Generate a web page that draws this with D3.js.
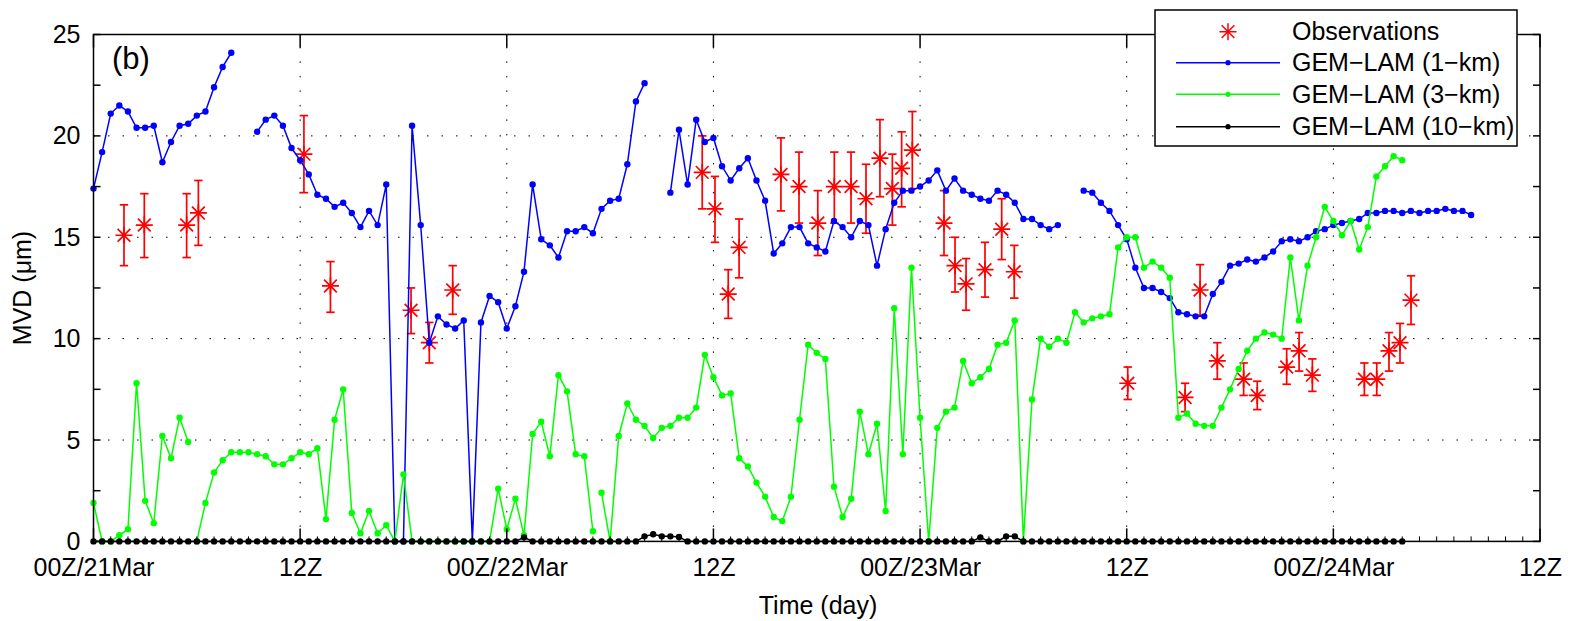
<!DOCTYPE html>
<html>
<head>
<meta charset="utf-8">
<script src="https://cdn.jsdelivr.net/npm/d3@7"></script>
<style>
  body { margin: 0; background: #fff; }
  svg { display: block; }
  text { font-family: "Liberation Sans", Arial, Helvetica, sans-serif; fill: #000; }
</style>
</head>
<body>
<svg id="chart" width="1579" height="621"></svg>
<script>
// Time axis: hours since 00Z 21 March
const tickHours  = [0, 12, 24, 36, 48, 60, 72, 84];
const tickLabels = ["00Z/21Mar", "12Z", "00Z/22Mar", "12Z", "00Z/23Mar", "12Z", "00Z/24Mar", "12Z"];
const yTickValues = [0, 5, 10, 15, 20, 25];
const stepHours = 0.5;   // model output every 30 min

// GEM-LAM 1-km MVD (µm), half-hourly from 00Z/21Mar (null = no output)
const gem1km = [
  17.4, 19.2, 21.1, 21.5, 21.2, 20.4, 20.4, 20.5, 18.7, 19.7,
  20.5, 20.6, 21.0, 21.2, 22.4, 23.4, 24.1, null, null, 20.2,
  20.8, 21.0, 20.5, 19.4, 18.8, 18.1, 17.1, 16.9, 16.5, 16.7,
  16.2, 15.5, 16.3, 15.6, 17.6, 0, 0, 20.5, 15.6, 9.8,
  11.1, 10.7, 10.5, 10.9, 0, 10.8, 12.1, 11.8, 10.5, 11.6,
  13.3, 17.6, 14.9, 14.6, 14.0, 15.3, 15.3, 15.5, 15.2, 16.4,
  16.8, 16.9, 18.6, 21.7, 22.6, null, null, 17.2, 20.3, 17.6,
  20.8, 19.7, 19.9, 18.5, 17.8, 18.4, 18.9, 17.8, 16.8, 14.2,
  14.7, 15.5, 15.5, 14.7, 14.5, 14.3, 15.8, 15.5, 15.0, 15.8,
  15.6, 13.6, 15.4, 16.7, 17.3, 17.3, 17.5, 17.8, 18.3, 17.3,
  17.9, 17.3, 17.1, 16.9, 16.8, 17.3, 17.1, 16.7, 15.9, 15.9,
  15.6, 15.4, 15.6, null, null, 17.3, 17.2, 16.7, 16.3, 15.6,
  14.9, 13.5, 12.5, 12.5, 12.3, 12.0, 11.3, 11.2, 11.1, 11.1,
  12.2, 12.8, 13.6, 13.7, 13.9, 13.8, 14.0, 14.3, 14.8, 14.9,
  14.8, 15.0, 15.3, 15.4, 15.6, 15.7, 15.8, 15.9, 16.2, 16.2,
  16.3, 16.3, 16.2, 16.3, 16.2, 16.3, 16.3, 16.4, 16.3, 16.3,
  16.1
];

// GEM-LAM 3-km MVD (µm), half-hourly
const gem3km = [
  1.9, 0, 0, 0.3, 0.6, 7.8, 2.0, 0.9, 5.2, 4.1,
  6.1, 4.9, 0, 1.9, 3.4, 4.0, 4.4, 4.4, 4.4, 4.3,
  4.2, 3.8, 3.8, 4.1, 4.4, 4.3, 4.6, 1.1, 6.0, 7.5,
  1.4, 0.4, 1.5, 0.4, 0.8, 0, 3.3, 0, 0, 0,
  0, 0, 0, 0, 0, 0, 0, 2.6, 0.6, 2.1,
  0.3, 5.3, 5.9, 4.2, 8.2, 7.4, 4.3, 4.2, 0.5, 2.4,
  0, 5.2, 6.8, 6.0, 5.7, 5.1, 5.6, 5.7, 6.1, 6.1,
  6.6, 9.2, 8.1, 7.2, 7.3, 4.1, 3.7, 2.9, 2.2, 1.2,
  1.0, 2.2, 6.0, 9.7, 9.3, 9.0, 2.7, 1.2, 2.1, 6.4,
  4.3, 5.8, 1.5, 11.5, 4.3, 13.5, 6.1, 0, 5.6, 6.4,
  6.6, 8.9, 7.8, 8.1, 8.5, 9.7, 9.8, 10.9, 0, 7.0,
  10.0, 9.6, 10.0, 9.8, 11.3, 10.8, 11.0, 11.1, 11.2, 14.5,
  15.0, 15.0, 13.5, 13.8, 13.5, 13.0, 6.1, 6.3, 5.8, 5.7,
  5.7, 6.6, 7.5, 8.5, 9.4, 10.0, 10.3, 10.2, 10.0, 14.0,
  10.9, 13.6, 15.0, 16.5, 15.8, 15.1, 15.8, 14.4, 15.5, 18.0,
  18.5, 19.0, 18.8
];
// indices after which the 3-km run restarts (no connecting segment)
const gem3kmBreaks = [11, 58];

// GEM-LAM 10-km MVD (µm), half-hourly
const gem10km = [
  0, 0, 0, 0, 0, 0, 0, 0, 0, 0,
  0, 0, 0, 0, 0, 0, 0, 0, 0, 0,
  0, 0, 0, 0, 0, 0, 0, 0, 0, 0,
  0, 0, 0, 0, 0, 0, 0, 0, 0, 0,
  0, 0, 0, 0, 0, 0, 0, 0, 0, 0,
  0.2, 0, 0, 0, 0, 0, 0, 0, 0, 0,
  0, 0, 0, 0, 0.25, 0.35, 0.25, 0.25, 0.22, 0,
  0, 0, 0, 0, 0, 0, 0, 0, 0, 0,
  0, 0, 0, 0, 0, 0, 0, 0, 0, 0,
  0, 0, 0, 0, 0, 0, 0, 0, 0, 0,
  0, 0, 0, 0.2, 0, 0, 0.25, 0.25, 0, 0,
  0, 0, 0, 0, 0, 0, 0, 0, 0, 0,
  0, 0, 0, 0, 0, 0, 0, 0, 0, 0,
  0, 0, 0, 0, 0, 0, 0, 0, 0, 0,
  0, 0, 0, 0, 0, 0, 0, 0, 0, 0,
  0, 0, 0
];

// Observed MVD (µm) with uncertainty range
const obsHours = [1.77, 2.95, 5.41, 6.09, 12.22, 13.76, 18.44, 19.50, 20.86, 35.35,
  36.09, 36.86, 37.49, 39.92, 40.97, 42.06, 43.02, 43.99, 44.86, 45.67,
  46.39, 46.93, 47.55, 49.39, 50.03, 50.67, 51.77, 52.74, 53.47, 60.06,
  63.39, 64.26, 65.26, 66.79, 67.58, 69.29, 70.01, 70.78, 73.80, 74.52,
  75.23, 75.87, 76.51];
const obsMVD = [15.1, 15.6, 15.6, 16.2, 19.1, 12.6, 11.4, 9.8, 12.4, 18.2,
  16.4, 12.2, 14.5, 18.1, 17.5, 15.7, 17.5, 17.5, 16.9, 18.9,
  17.4, 18.4, 19.3, 15.7, 13.6, 12.7, 13.4, 15.4, 13.3, 7.8,
  7.1, 12.4, 8.9, 8.0, 7.2, 8.6, 9.4, 8.2, 8.0, 8.0,
  9.4, 9.8, 11.9];
const obsHigh = [16.6, 17.15, 17.15, 17.8, 21.0, 13.8, 12.5, 10.8, 13.6, 20.0,
  18.0, 13.4, 15.9, 19.9, 19.2, 17.3, 19.2, 19.2, 18.6, 20.8,
  19.1, 20.2, 21.2, 17.3, 15.0, 13.95, 14.75, 16.9, 14.6, 8.6,
  7.8, 13.65, 9.8, 8.8, 7.9, 9.5, 10.3, 9.0, 8.8, 8.8,
  10.3, 10.75, 13.1];
const obsLow = [13.6, 14.0, 14.0, 14.6, 17.2, 11.3, 10.25, 8.8, 11.2, 16.4,
  14.75, 11.0, 13.0, 16.3, 15.7, 14.1, 15.7, 15.7, 15.2, 17.0,
  15.6, 16.5, 17.4, 14.1, 12.3, 11.4, 12.05, 13.9, 12.0, 7.0,
  6.4, 11.15, 8.0, 7.2, 6.5, 7.75, 8.4, 7.4, 7.2, 7.2,
  8.4, 8.8, 10.7];

const legendLabels = ["Observations", "GEM\u2212LAM (1\u2212km)", "GEM\u2212LAM (3\u2212km)", "GEM\u2212LAM (10\u2212km)"];

// ---- layout ----
const svg = d3.select("#chart");
const L = 93.5, R = 1540, T = 34.5, B = 541.4;
const x = d3.scaleLinear().domain([0, 84]).range([L, R]);
const y = d3.scaleLinear().domain([0, 25]).range([B, T]);
const FS = 25;

// grid
const grid = svg.append("g").attr("stroke", "#000").attr("stroke-width", 1)
  .attr("stroke-dasharray", "1.5,13");
grid.selectAll("line.h").data(yTickValues.filter(v => v > 0 && v < 25)).join("line")
  .attr("x1", L).attr("x2", R).attr("y1", d => y(d)).attr("y2", d => y(d));
grid.selectAll("line.v").data(tickHours.filter(h => h > 0 && h < 84)).join("line")
  .attr("y1", B).attr("y2", T).attr("x1", d => x(d)).attr("x2", d => x(d));

// series segments (split at missing values and run restarts)
function segments(vals, breaks) {
  const segs = []; let cur = [];
  vals.forEach((v, i) => {
    if (v == null) { if (cur.length) segs.push(cur); cur = []; return; }
    cur.push([i * stepHours, v]);
    if (breaks.includes(i)) { segs.push(cur); cur = []; }
  });
  if (cur.length) segs.push(cur);
  return segs;
}
const line = d3.line().x(d => x(d[0])).y(d => y(d[1]));

function asteriskPath(r) {
  const d = r * 0.75;
  return `M${-r},0L${r},0M0,${-r}L0,${r}M${-d},${-d}L${d},${d}M${-d},${d}L${d},${-d}`;
}

// observations with error bars
const obs = svg.append("g").attr("stroke", "#ff0000").attr("stroke-width", 1.7).attr("fill", "none");
obsHours.forEach((h, i) => {
  const cx = x(h), cap = 4.2;
  obs.append("line").attr("x1", cx).attr("x2", cx).attr("y1", y(obsLow[i])).attr("y2", y(obsHigh[i]));
  obs.append("line").attr("x1", cx - cap).attr("x2", cx + cap).attr("y1", y(obsLow[i])).attr("y2", y(obsLow[i]));
  obs.append("line").attr("x1", cx - cap).attr("x2", cx + cap).attr("y1", y(obsHigh[i])).attr("y2", y(obsHigh[i]));
  obs.append("path").attr("d", asteriskPath(8.5)).attr("transform", `translate(${cx},${y(obsMVD[i])})`);
});

function drawSeries(vals, breaks, color, r) {
  const g = svg.append("g");
  g.selectAll("path").data(segments(vals, breaks)).join("path")
    .attr("d", line).attr("fill", "none").attr("stroke", color).attr("stroke-width", 1.5);
  const pts = [];
  vals.forEach((v, i) => { if (v != null) pts.push([i * stepHours, v]); });
  g.selectAll("circle").data(pts).join("circle")
    .attr("cx", d => x(d[0])).attr("cy", d => y(d[1])).attr("r", r).attr("fill", color);
}
drawSeries(gem1km, [], "#0000ff", 3.2);
drawSeries(gem3km, gem3kmBreaks, "#00ff00", 3.2);
drawSeries(gem10km, [], "#000000", 3.2);

// axes
const axes = svg.append("g").attr("stroke", "#000").attr("stroke-width", 1.5).attr("fill", "none");
// minor hourly ticks along the bottom
axes.selectAll("line.mx").data(d3.range(1, 84).filter(h => h % 12 !== 0)).join("line")
  .attr("x1", d => x(d)).attr("x2", d => x(d)).attr("y1", B).attr("y2", B - 5).attr("stroke-width", 1);
// major time ticks top and bottom
axes.selectAll("line.bx").data(tickHours).join("line")
  .attr("x1", d => x(d)).attr("x2", d => x(d)).attr("y1", B).attr("y2", B - 13);
axes.selectAll("line.tx").data(tickHours).join("line")
  .attr("x1", d => x(d)).attr("x2", d => x(d)).attr("y1", T).attr("y2", T + 13);
// value ticks left and right every 2.5
const yAll = d3.range(0, 25.01, 2.5);
axes.selectAll("line.ly").data(yAll).join("line")
  .attr("x1", L).attr("x2", L + 7).attr("y1", d => y(d)).attr("y2", d => y(d));
axes.selectAll("line.ry").data(yAll).join("line")
  .attr("x1", R).attr("x2", R - 7).attr("y1", d => y(d)).attr("y2", d => y(d));
axes.append("rect").attr("x", L).attr("y", T).attr("width", R - L).attr("height", B - T);

// tick labels via d3 axes (tick lines hidden, frame drawn above)
const xAxis = d3.axisBottom(x).tickValues(tickHours).tickFormat((d, i) => tickLabels[i])
  .tickSize(0).tickPadding(17);
const gx = svg.append("g").attr("transform", `translate(0,${B})`).call(xAxis);
gx.select(".domain").remove();
gx.selectAll("text").attr("font-size", FS).attr("font-family", "Liberation Sans, Arial, sans-serif");

const yAxis = d3.axisLeft(y).tickValues(yTickValues).tickSize(0).tickPadding(13);
const gy = svg.append("g").attr("transform", `translate(${L},0)`).call(yAxis);
gy.select(".domain").remove();
gy.selectAll("text").attr("font-size", FS).attr("font-family", "Liberation Sans, Arial, sans-serif");

// titles
svg.append("text").attr("x", 818).attr("y", 614).attr("text-anchor", "middle")
  .attr("font-size", FS).text("Time (day)");
svg.append("text").attr("transform", "translate(31,288) rotate(-90)").attr("text-anchor", "middle")
  .attr("font-size", FS).text("MVD (\u03bcm)");
svg.append("text").attr("x", 112).attr("y", 69).attr("font-size", 31).text("(b)");

// legend
const lg = svg.append("g");
lg.append("rect").attr("x", 1155).attr("y", 10).attr("width", 362).attr("height", 136)
  .attr("fill", "#fff").attr("stroke", "#000").attr("stroke-width", 1.5);
const rowY = [31.7, 62.7, 94.3, 126.7];
const legColors = ["#ff0000", "#0000ff", "#00ff00", "#000000"];
legendLabels.forEach((lab, i) => {
  const yy = rowY[i];
  if (i === 0) {
    lg.append("path").attr("d", asteriskPath(8.5)).attr("transform", `translate(1228,${yy})`)
      .attr("stroke", legColors[i]).attr("stroke-width", 1.5).attr("fill", "none");
  } else {
    lg.append("line").attr("x1", 1176).attr("x2", 1280).attr("y1", yy).attr("y2", yy)
      .attr("stroke", legColors[i]).attr("stroke-width", 1.5);
    lg.append("circle").attr("cx", 1228).attr("cy", yy).attr("r", 2.6).attr("fill", legColors[i]);
  }
  lg.append("text").attr("x", 1292).attr("y", yy).attr("dy", "0.35em").attr("font-size", FS).text(lab);
});
</script>
</body>
</html>
